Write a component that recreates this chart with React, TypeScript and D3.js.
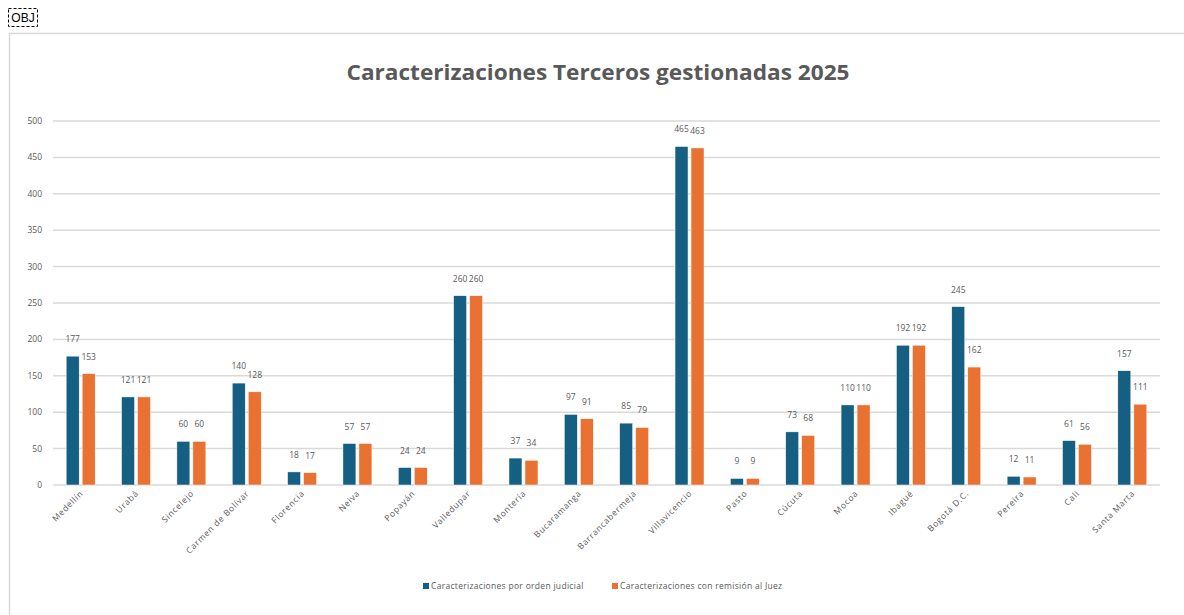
import React from "react";
import * as d3 from "d3";

const categories = ["Medellín","Urabá","Sincelejo","Carmen de Bolívar","Florencia","Neiva","Popayán","Valledupar","Montería","Bucaramanga","Barrancabermeja","Villavicencio","Pasto","Cúcuta","Mocoa","Ibagué","Bogotá D.C.","Pereira","Cali","Santa Marta"];
const ordenJudicial = [177,121,60,140,18,57,24,260,37,97,85,465,9,73,110,192,245,12,61,157];
const remisionJuez = [153,121,60,128,17,57,24,260,34,91,79,463,9,68,110,192,162,11,56,111];
const yTicks = [0,50,100,150,200,250,300,350,400,450,500];
const seriesNames = ["Caracterizaciones por orden judicial","Caracterizaciones con remisión al Juez"];
const colors = ["#156082","#E97132"];

export default function App() {
  const W = 1184, H = 615;
  const left = 53, right = 1160, top = 121, bottom = 485;
  const x = d3.scaleBand<string>().domain(categories).range([left, right]);
  const y = d3.scaleLinear().domain([0, 500]).range([bottom, top]);
  const bw = 13, gap = 3;
  const font = "'Open Sans', Lato, sans-serif";
  const series = [ordenJudicial, remisionJuez];
  return (
    <svg width={W} height={H} style={{ position: "absolute", left: 0, top: 0 }}>
      <rect x={0} y={0} width={W} height={H} fill="#fff" />
      <rect x={9.5} y={33.5} width={W} height={H} fill="#fff" stroke="#d9d9d9" strokeWidth={1.5} />
      <rect x={8.5} y={8.5} width={29} height={18} fill="none" stroke="#000" strokeDasharray="3,2" strokeWidth={1} />
      <text x={23} y={22} textAnchor="middle" fontFamily="Arial, sans-serif" fontSize={12} fill="#000">OBJ</text>
      <text x={598} y={80} textAnchor="middle" fontFamily={font} fontWeight="bold" fontSize={21} fill="#595959" textLength={503} lengthAdjust="spacingAndGlyphs">Caracterizaciones Terceros gestionadas 2025</text>
      {yTicks.map(t => (
        <g key={t}>
          <line x1={left} x2={right} y1={y(t)} y2={y(t)} stroke="#d9d9d9" strokeWidth={1.5} />
          <text x={42} y={y(t) + 3} textAnchor="end" fontFamily={font} fontSize={8.5} fill="#595959">{t}</text>
        </g>
      ))}
      {categories.map((c, i) => {
        const cx = x(c)! + x.bandwidth() / 2;
        return (
          <g key={c}>
            {series.map((s, k) => {
              const bx = k === 0 ? cx - gap / 2 - bw : cx + gap / 2;
              const v = s[i];
              return (
                <g key={k}>
                  <rect x={bx} y={y(v)} width={bw} height={bottom - y(v)} fill={colors[k]} stroke="#fff" strokeWidth={0.5} />
                  <text x={bx + bw / 2} y={y(v) - 14} textAnchor="middle" fontFamily={font} fontSize={8.5} fill="#595959">{v}</text>
                </g>
              );
            })}
            <text transform={`translate(${cx + 3},${bottom + 9}) rotate(-45)`} textAnchor="end" fontFamily={font} fontSize={8.5} letterSpacing={0.7} fill="#595959">{c}</text>
          </g>
        );
      })}
      {seriesNames.map((n, k) => {
        const lx = k === 0 ? 423 : 612;
        return (
          <g key={n}>
            <rect x={lx} y={583} width={6} height={6} fill={colors[k]} />
            <text x={lx + 8} y={589} fontFamily={font} fontSize={8.5} letterSpacing={0.3} fill="#595959">{n}</text>
          </g>
        );
      })}
    </svg>
  );
}
